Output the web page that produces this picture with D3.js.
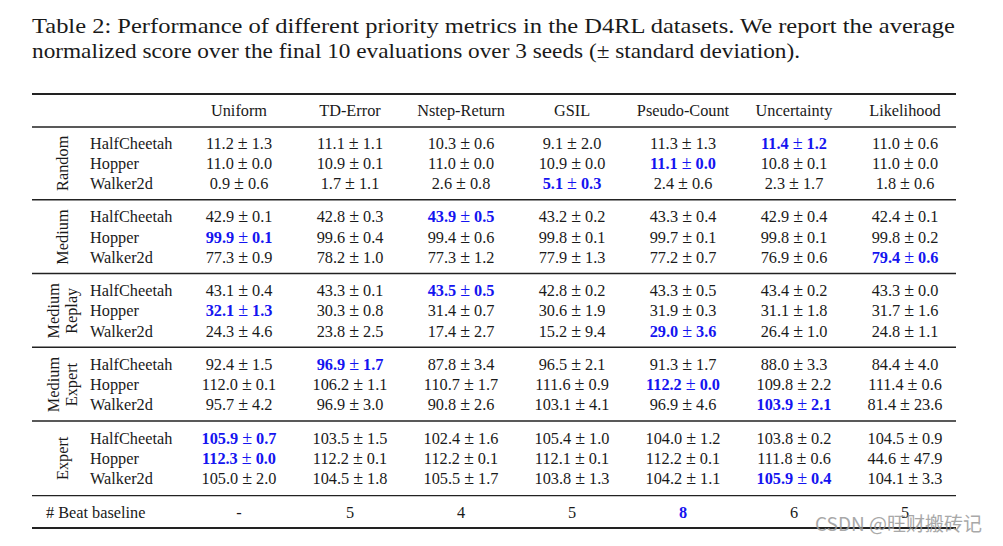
<!DOCTYPE html>
<html><head><meta charset="utf-8">
<script src="https://cdn.jsdelivr.net/npm/d3@7"></script>
<style>body{margin:0;background:#fff}svg{display:block}</style>
</head><body>
<svg id="c" width="1003" height="546"></svg>
<script>
const titleLines = [
  "Table 2:  Performance of different priority metrics in the D4RL datasets.  We report the average",
  "normalized score over the final 10 evaluations over 3 seeds (\u00b1 standard deviation)."
];
const methods = ["Uniform","TD-Error","Nstep-Return","GSIL","Pseudo-Count","Uncertainty","Likelihood"];
const groups = [["Random"],["Medium"],["Medium","Replay"],["Medium","Expert"],["Expert"]];
const envs = ["HalfCheetah","Hopper","Walker2d"];
// means[group][env][method]
const means = [
  [[11.2,11.1,10.3,9.1,11.3,11.4,11.0],[11.0,10.9,11.0,10.9,11.1,10.8,11.0],[0.9,1.7,2.6,5.1,2.4,2.3,1.8]],
  [[42.9,42.8,43.9,43.2,43.3,42.9,42.4],[99.9,99.6,99.4,99.8,99.7,99.8,99.8],[77.3,78.2,77.3,77.9,77.2,76.9,79.4]],
  [[43.1,43.3,43.5,42.8,43.3,43.4,43.3],[32.1,30.3,31.4,30.6,31.9,31.1,31.7],[24.3,23.8,17.4,15.2,29.0,26.4,24.8]],
  [[92.4,96.9,87.8,96.5,91.3,88.0,84.4],[112.0,106.2,110.7,111.6,112.2,109.8,111.4],[95.7,96.9,90.8,103.1,96.9,103.9,81.4]],
  [[105.9,103.5,102.4,105.4,104.0,103.8,104.5],[112.3,112.2,112.2,112.1,112.2,111.8,44.6],[105.0,104.5,105.5,103.8,104.2,105.9,104.1]]
];
const stds = [
  [[1.3,1.1,0.6,2.0,1.3,1.2,0.6],[0.0,0.1,0.0,0.0,0.0,0.1,0.0],[0.6,1.1,0.8,0.3,0.6,1.7,0.6]],
  [[0.1,0.3,0.5,0.2,0.4,0.4,0.1],[0.1,0.4,0.6,0.1,0.1,0.1,0.2],[0.9,1.0,1.2,1.3,0.7,0.6,0.6]],
  [[0.4,0.1,0.5,0.2,0.5,0.2,0.0],[1.3,0.8,0.7,1.9,0.3,1.8,1.6],[4.6,2.5,2.7,9.4,3.6,1.0,1.1]],
  [[1.5,1.7,3.4,2.1,1.7,3.3,4.0],[0.1,1.1,1.7,0.9,0.0,2.2,0.6],[4.2,3.0,2.6,4.1,4.6,2.1,23.6]],
  [[0.7,1.5,1.6,1.0,1.2,0.2,0.9],[0.0,0.1,0.1,0.1,0.1,0.6,47.9],[2.0,1.8,1.7,1.3,1.1,0.4,3.3]]
];
// index of highlighted (best) method per group/env
const bestIdx = [[5,4,3],[2,0,6],[2,0,4],[1,4,5],[0,0,5]];
const beatLabel = "# Beat baseline";
const beatCounts = ["-","5","4","5","8","6","5"];
const beatBest = 4;
const watermark = "CSDN @\u65fa\u8d22\u642c\u7816\u8bb0";

const svg = d3.select("#c");
const serif = "'Liberation Serif','Times New Roman',serif";
const blue = "#1414f0";
const ink = "#1a1a1a";

// title
const title = svg.append("g").attr("font-family", serif).attr("font-size", 21.5).attr("fill", ink);
title.append("text").attr("x", 32).attr("y", 33).attr("textLength", 923).attr("lengthAdjust","spacingAndGlyphs").text(titleLines[0]);
title.append("text").attr("x", 32).attr("y", 58).attr("textLength", 768).attr("lengthAdjust","spacingAndGlyphs").text(titleLines[1]);

// scales
const x = d3.scalePoint().domain(methods).range([239, 905]);
const gy = d3.scaleLinear().domain([0, groups.length - 1]).range([143, 438]);
const rowStep = 20.3;
const left = 32, right = 956;

const tbl = svg.append("g").attr("font-family", serif).attr("font-size", 16.3).attr("fill", ink);
const base = 5.5; // baseline offset from row center

// rules
function rule(y, w) {
  svg.append("line").attr("x1", left).attr("x2", right).attr("y1", y).attr("y2", y)
    .attr("stroke", "#222").attr("stroke-width", w);
}
rule(94, 2);
rule(127, 1.3);
groups.forEach((g, i) => { if (i > 0) rule(gy(i) - 17, 1.3); });
rule(gy(groups.length - 1) + 2 * rowStep + 17, 1.3);
rule(528, 2);

// header
tbl.selectAll("text.h").data(methods).join("text").attr("class","h")
  .attr("x", d => x(d)).attr("y", 110 + base).attr("text-anchor","middle").text(d => d);

// group labels
groups.forEach((g, gi) => {
  const cy = gy(gi) + rowStep;
  const n = g.length;
  g.forEach((line, li) => {
    const cx = 62 + (li - (n - 1) / 2) * 18;
    tbl.append("text").attr("transform", `translate(${cx + base},${cy}) rotate(-90)`)
      .attr("text-anchor","middle").text(line);
  });
  envs.forEach((e, ei) => {
    const cy2 = gy(gi) + ei * rowStep;
    tbl.append("text").attr("x", 90).attr("y", cy2 + base).text(e);
    methods.forEach((m, mi) => {
      const best = bestIdx[gi][ei] === mi;
      const t = tbl.append("text").attr("x", x(m)).attr("y", cy2 + base).attr("text-anchor","middle")
        .attr("fill", best ? blue : ink).attr("font-weight", best ? "bold" : "normal");
      t.append("tspan").text(means[gi][ei][mi].toFixed(1));
      t.append("tspan").attr("dx", 4).attr("font-weight","normal").attr("font-size", 18).text("\u00b1");
      t.append("tspan").attr("dx", 4).text(stds[gi][ei][mi].toFixed(1));
    });
  });
});

// beat baseline row
const by = 512;
tbl.append("text").attr("x", 46).attr("y", by + base).text(beatLabel);
tbl.selectAll("text.b").data(beatCounts).join("text").attr("class","b")
  .attr("x", (d, i) => x(methods[i])).attr("y", by + base).attr("text-anchor","middle")
  .attr("fill", (d, i) => i === beatBest ? blue : ink)
  .attr("font-weight", (d, i) => i === beatBest ? "bold" : "normal").text(d => d);

// watermark
svg.append("text").attr("x", 815).attr("y", 531).attr("font-family","'Noto Sans CJK SC','Noto Sans',sans-serif")
  .attr("font-size", 19).attr("fill", "#9a9a9a").attr("opacity", 0.85).text(watermark);
</script>
</body></html>
